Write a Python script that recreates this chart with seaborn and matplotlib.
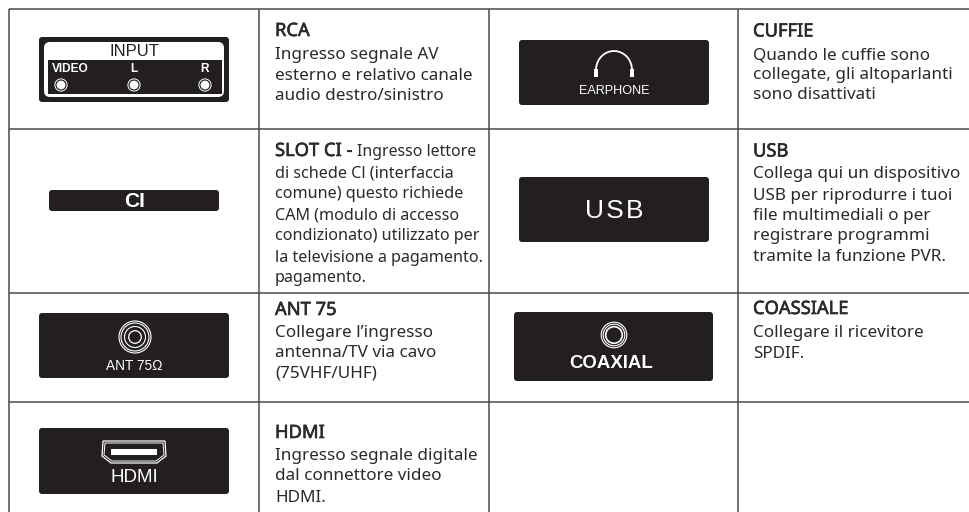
import matplotlib
matplotlib.use('Agg')
import matplotlib.pyplot as plt
import matplotlib.patheffects as pe
import seaborn as sns
from matplotlib.patches import FancyBboxPatch, Circle, Rectangle, Polygon, Arc

# table content
titles = ['RCA', 'SLOT CI -', 'ANT 75', 'HDMI', 'CUFFIE', 'USB', 'COASSIALE']
bodies = [
    ['Ingresso segnale AV', 'esterno e relativo canale', 'audio destro/sinistro'],
    ['di schede Cl (interfaccia', 'comune) questo richiede', 'CAM (modulo di accesso',
     'condizionato) utilizzato per', 'la televisione a pagamento.', 'pagamento.'],
    ['Collegare l\u2019ingresso', 'antenna/TV via cavo', '(75VHF/UHF)'],
    ['Ingresso segnale digitale', 'dal connettore video', 'HDMI.'],
    ['Quando le cuffie sono', 'collegate, gli altoparlanti', 'sono disattivati'],
    ['Collega qui un dispositivo', 'USB per riprodurre i tuoi', 'file multimediali o per',
     'registrare programmi', 'tramite la funzione PVR.'],
    ['Collegare il ricevitore', 'SPDIF.'],
]
slot_tail = 'Ingresso lettore'
rca_labels = ['INPUT', 'VIDEO', 'L', 'R']
icon_labels = ['CI', 'ANT 75\u03a9', 'HDMI', 'EARPHONE', 'USB', 'COAXIAL']

# layout in pixels
col_lines = [9, 259, 489, 738]
row_lines = [9, 129, 293, 402]
title_x = [275, 275, 275, 275, 753, 753, 753]
title_y = [36, 156, 315, 438, 36.5, 156.5, 314]
body_y = [
    [59, 80, 100],
    [177.5, 198.5, 219.5, 240.5, 261.5, 282.5],
    [337, 357, 377],
    [460, 480, 502],
    [59, 79, 99],
    [178, 199.5, 220, 240, 261],
    [337, 358],
]

DARK = '#231f20'
TXT = '#2b2a2b'
SANS = 'Noto Sans'
ICON = 'Liberation Sans'

sns.set_theme(style='white')
plt.rcParams['font.family'] = [SANS, 'DejaVu Sans']
fig = plt.figure(figsize=(9.69, 5.12), dpi=100, facecolor='white')
ax = fig.add_axes([0, 0, 1, 1])
ax.set_xlim(0, 969)
ax.set_ylim(512, 0)
ax.axis('off')
sns.despine(ax=ax, left=True, bottom=True)

ax.vlines(col_lines, 9, 512, color='#4a4a4a', lw=1.1)
ax.hlines(row_lines, 9, 969, color='#4a4a4a', lw=1.1)


def box(x0, y0, x1, y1, r=3, fc=DARK, ec='none', lw=0, z=2):
    ax.add_patch(FancyBboxPatch((x0, y0), x1 - x0, y1 - y0,
                                boxstyle='round,pad=0,rounding_size=%g' % r,
                                fc=fc, ec=ec, lw=lw, zorder=z))


def ring(x, y, r, fc='none', ec='white', lw=0.9, z=3):
    ax.add_patch(Circle((x, y), r, fc=fc, ec=ec, lw=lw, zorder=z))


def label(x, y, s, size, weight='normal', color='white'):
    ax.text(x, y, s, fontsize=size, fontweight=weight, color=color, family=ICON,
            ha='center', va='center', zorder=5)


# RCA
box(39, 37, 229, 102, r=3)
box(44, 42, 224, 97, r=6, fc='white', z=3)
ax.add_patch(Rectangle((48, 60), 174, 34, fc=DARK, ec='none', zorder=4))
label(134, 51.5, rca_labels[0], 12, color=DARK)
label(70, 69.5, rca_labels[1], 8.6, 'bold')
label(134, 69.5, rca_labels[2], 8.6, 'bold')
label(205, 69.5, rca_labels[3], 8.6, 'bold')
for cx in [61, 134, 205]:
    ring(cx, 85, 6.6, fc='white', ec='none', lw=0, z=4)
    ring(cx, 85, 5.6, fc=DARK, ec='none', lw=0, z=4)
    ring(cx, 85, 4.4, fc='white', ec='none', lw=0, z=4)

# CI
box(49, 190, 219, 211, r=3)
label(135, 201.5, icon_labels[0], 15, 'bold')

# ANT
box(39, 313, 229, 378, r=3)
for r in [16, 14, 10.5]:
    ring(135, 337, r, lw=0.8)
ring(135, 337, 6.3, lw=0.9)
label(134.5, 366, icon_labels[1], 9.8)

# HDMI
box(39, 428, 229, 494, r=3)
ax.add_patch(Polygon([(103, 441), (165, 441), (166, 456), (157, 463), (111, 463), (102, 456)],
                     closed=True, fc=DARK, ec='white', lw=0.9, zorder=3))
ax.add_patch(Polygon([(105, 443), (163, 443), (164, 455), (156, 461), (112, 461), (104, 455)],
                     closed=True, fc=DARK, ec='white', lw=0.7, zorder=3))
ax.add_patch(Rectangle((111, 449), 46, 6, fc='white', ec='none', zorder=4))
label(134, 477, icon_labels[2], 13.5)

# earphone
box(519, 40, 709, 105, r=3)
ax.add_patch(Arc((614, 70), 36, 38, theta1=180, theta2=360, ec='white', lw=1.3, zorder=3))
ax.add_patch(Rectangle((594, 68.5), 4, 8.5, fc='white', ec='none', zorder=4))
ax.add_patch(Rectangle((630, 68.5), 4, 8.5, fc='white', ec='none', zorder=4))
label(614, 91, icon_labels[3], 9.1)

# USB
box(519, 177, 709, 242, r=3)
label(614, 211, '\u200a'.join(icon_labels[4]), 19)

# coaxial
box(514, 312, 713, 381, r=3)
ring(614, 335, 12.8, lw=0.8)
ring(614, 335, 10.8, lw=0.8)
ring(614, 335, 8.3, lw=1.2)
label(611, 363, icon_labels[5], 13.4, 'bold')

# text column
medium = [pe.withStroke(linewidth=0.45, foreground=TXT)]
for i, t in enumerate(titles):
    ax.text(title_x[i], title_y[i], t, fontsize=13.2, color=TXT, ha='left', va='baseline',
            path_effects=medium, zorder=5)
    for j, line in enumerate(bodies[i]):
        ax.text(title_x[i], body_y[i][j], line, fontsize=11.6 if i == 1 else 12.3, color=TXT,
                ha='left', va='baseline', zorder=5)
ax.text(357, title_y[1], slot_tail, fontsize=11.4, color=TXT, ha='left', va='baseline', zorder=5)

fig.savefig('out.png', dpi=100)
